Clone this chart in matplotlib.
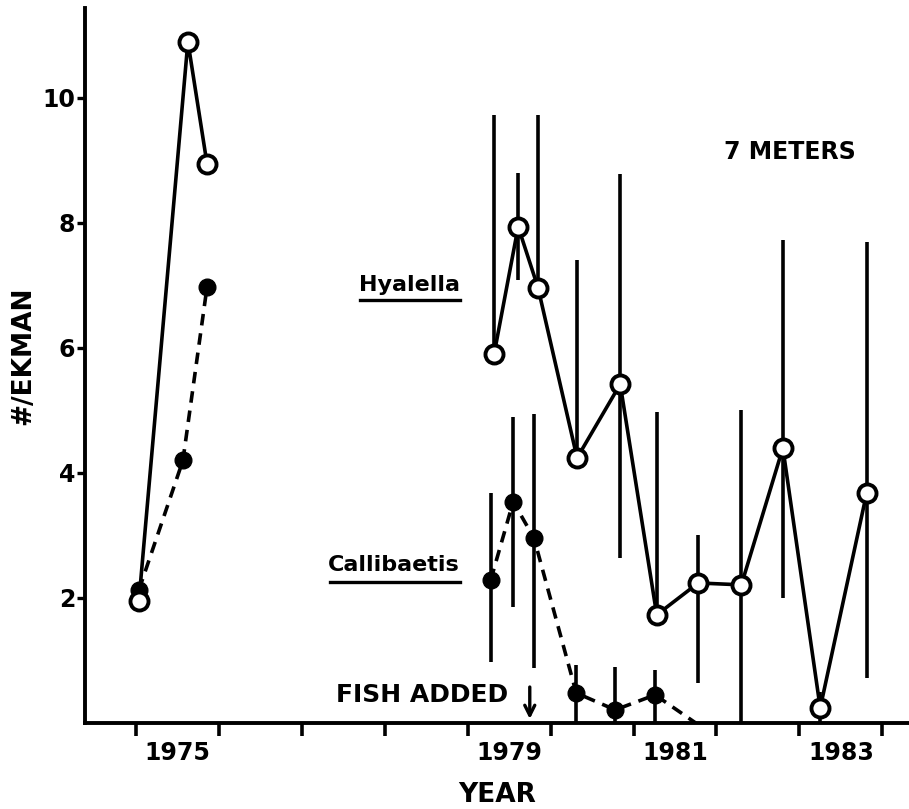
import matplotlib
matplotlib.use('Agg')
import matplotlib.pyplot as plt
from matplotlib.lines import Line2D

plt.rcParams['font.family'] = ['DejaVu Sans']
plt.rcParams['font.weight'] = 'bold'

# Hyalella (open circles, solid line)
hy75_year = [1975.04, 1975.63, 1975.86]
hy75_val = [1.95, 10.9, 8.95]
hy_year = [1979.32, 1979.61, 1979.85, 1980.32, 1980.84, 1981.28, 1981.78, 1982.30, 1982.80, 1983.25, 1983.81]
hy_val = [5.9, 7.94, 6.96, 4.24, 5.42, 1.73, 2.24, 2.21, 4.4, 0.24, 3.68]
hy_hi = [9.73, 8.8, 9.73, 7.4, 8.78, 4.98, 3.0, 5.0, 7.73, 0.5, 7.7]
hy_lo = [5.9, 7.09, 6.96, 4.24, 2.64, 1.73, 0.64, 0.0, 2.0, 0.0, 0.72]

# Callibaetis (filled circles, dashed line)
ca75_year = [1975.04, 1975.57, 1975.86]
ca75_val = [2.13, 4.2, 6.97]
ca_year = [1979.28, 1979.55, 1979.80, 1980.31, 1980.78, 1981.26, 1981.75]
ca_val = [2.29, 3.54, 2.96, 0.48, 0.21, 0.45, 0.0]
ca_hi = [3.68, 4.9, 4.94, 0.93, 0.9, 0.85, 0.0]
ca_lo = [0.98, 1.86, 0.88, 0.0, 0.0, 0.0, 0.0]

year_ticks = list(range(1975, 1985))
year_labels = ['1975', '1979', '1981', '1983']
y_ticks = [2, 4, 6, 8, 10]

fig = plt.figure(figsize=(9.09, 8.09), dpi=100)
ax = fig.add_axes([0.0935, 0.1063, 0.9065, 0.884])

lw = 2.6
dash = (3.2, 2.2)
# error bars
ax.vlines(hy_year, hy_lo, hy_hi, color='k', lw=lw)
ax.vlines(ca_year[:-1], ca_lo[:-1], ca_hi[:-1], color='k', lw=lw)

# series
ax.plot(hy75_year, hy75_val, '-', color='k', lw=lw, marker='o', ms=13,
        mfc='white', mec='k', mew=2.8, zorder=4)
ax.plot(hy_year, hy_val, '-', color='k', lw=lw, marker='o', ms=13,
        mfc='white', mec='k', mew=2.8, zorder=4)
ax.plot(ca75_year, ca75_val, '--', color='k', lw=lw, marker='o', ms=12,
        mfc='k', mec='k', dashes=dash, zorder=3)
ax.plot(ca_year, ca_val, '--', color='k', lw=lw, dashes=dash, zorder=3)
ax.plot(ca_year[:-1], ca_val[:-1], 'o', color='k', ms=12, zorder=3)

ax.set_xlim(1974.39, 1984.32)
ax.set_ylim(0, 11.44)

for s in ['top', 'right']:
    ax.spines[s].set_visible(False)
for s in ['left', 'bottom']:
    ax.spines[s].set_linewidth(2.8)

ax.set_yticks(y_ticks)
ax.set_yticklabels([str(v) for v in y_ticks], fontsize=17, fontweight='bold')
ax.tick_params(axis='y', length=6, width=2.4, pad=1)

ax.set_xticks(year_ticks)
ax.set_xticklabels([''] * len(year_ticks))
ax.tick_params(axis='x', which='major', length=9, width=2.6)
ax.set_xticks([int(y) + 0.5 for y in year_labels], minor=True)
ax.set_xticklabels(year_labels, minor=True, fontsize=17, fontweight='bold')
ax.tick_params(axis='x', which='minor', length=0, pad=13)

ax.set_xlabel('YEAR', fontsize=19, fontweight='bold', labelpad=12)
fig.text(0.026, 0.56, '#/EKMAN', rotation=90, fontsize=19, fontweight='bold',
         ha='center', va='center')

ax.text(1982.88, 9.14, '7 METERS', fontsize=17, fontweight='bold', ha='center', va='center')
ax.text(1978.91, 7.0, 'Hyalella', fontsize=16, fontweight='bold', ha='right', va='center')
ax.add_line(Line2D([1977.70, 1978.91], [6.76, 6.76], color='k', lw=2.4))
ax.text(1978.91, 2.52, 'Callibaetis', fontsize=16, fontweight='bold', ha='right', va='center')
ax.add_line(Line2D([1977.34, 1978.91], [2.26, 2.26], color='k', lw=2.4))
ax.text(1979.49, 0.45, 'FISH ADDED', fontsize=18, fontweight='bold', ha='right', va='center')
ax.annotate('', xy=(1979.75, 0.02), xytext=(1979.75, 0.62),
            arrowprops=dict(arrowstyle='->', color='k', lw=2.4, mutation_scale=18))

fig.savefig('out.png', dpi=100)
